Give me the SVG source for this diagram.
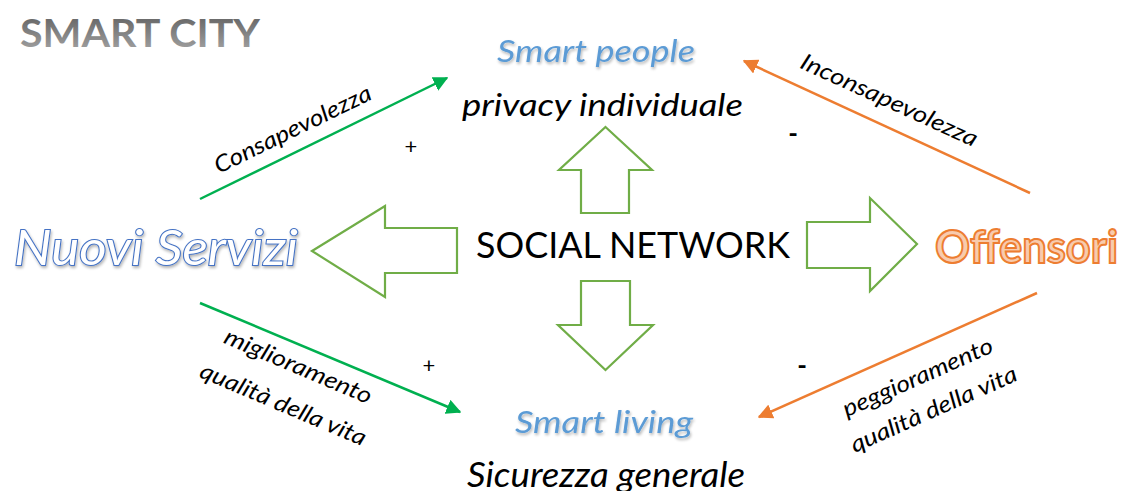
<svg xmlns="http://www.w3.org/2000/svg" width="1125" height="491" viewBox="0 0 1125 491">
<defs>
<linearGradient id="tg" x1="0" y1="0" x2="0" y2="1">
<stop offset="0" stop-color="#5a5a5a"/>
<stop offset="1" stop-color="#a8a8a8"/>
</linearGradient>
<filter id="soft" x="-10%" y="-10%" width="120%" height="120%">
<feGaussianBlur stdDeviation="0.6"/>
</filter>
<filter id="sh" x="-10%" y="-20%" width="120%" height="150%">
<feGaussianBlur in="SourceAlpha" stdDeviation="1.5" result="b"/>
<feOffset dx="1" dy="2" result="o"/>
<feComponentTransfer in="o" result="o2"><feFuncA type="linear" slope="0.3"/></feComponentTransfer>
<feMerge><feMergeNode in="o2"/><feMergeNode in="SourceGraphic"/></feMerge>
</filter>
<marker id="mg" viewBox="0 0 10 10" refX="9" refY="5" markerWidth="6" markerHeight="6" orient="auto" markerUnits="strokeWidth">
<path d="M0,0 L10,5 L0,10 z" fill="#00b050"/>
</marker>
<marker id="mo" viewBox="0 0 10 10" refX="9" refY="5" markerWidth="6" markerHeight="6" orient="auto" markerUnits="strokeWidth">
<path d="M0,0 L10,5 L0,10 z" fill="#ed7d31"/>
</marker>
</defs>
<style>
.f{font-family:Lato,"Open Sans","Liberation Sans",sans-serif}
.it{font-style:italic}
.blk{stroke:#70ad47;stroke-width:2.2;fill:#fff}
.g{stroke:#00b050;stroke-width:2.5;fill:none}
.o{stroke:#ed7d31;stroke-width:2.5;fill:none}
.lab{font-size:23px;fill:#000}
.sm{font-size:30px;fill:#5b9bd5}
.sign{font-size:22px;fill:#000}
</style>
<rect width="1125" height="491" fill="#fff"/>

<g id="title">
<text class="f" x="20" y="47" font-size="38" font-weight="bold" fill="url(#tg)" textLength="240" lengthAdjust="spacingAndGlyphs">SMART CITY</text>
</g>

<g id="smart-people">
<text class="f it sm" x="497" y="62" textLength="198" lengthAdjust="spacingAndGlyphs" filter="url(#sh)">Smart people</text>
<text class="f it" x="462" y="116" font-size="30" fill="#000" textLength="281" lengthAdjust="spacingAndGlyphs">privacy individuale</text>
</g>

<g id="smart-living">
<text class="f it sm" x="515" y="433" textLength="178" lengthAdjust="spacingAndGlyphs" filter="url(#sh)">Smart living</text>
<text class="f it" x="467" y="487" font-size="35" fill="#000" textLength="278" lengthAdjust="spacingAndGlyphs">Sicurezza generale</text>
</g>

<g id="social-network">
<text class="f" x="476" y="258" font-size="36" fill="#000" textLength="314" lengthAdjust="spacingAndGlyphs">SOCIAL NETWORK</text>
<polygon class="blk" filter="url(#soft)" points="605.5,127 652,170 629,170 629,213 581,213 581,170 559,170"/>
<polygon class="blk" filter="url(#soft)" points="312,251 385,206 385,228 457,228 457,273 385,273 385,297"/>
<polygon class="blk" points="917,244 870,198 870,222 807,222 807,268 870,268 870,291"/>
<polygon class="blk" points="605.5,370 653,325 630,325 630,281 581,281 581,325 558,325"/>
</g>

<g id="nuovi-servizi">
<text class="f it" x="14" y="265" font-size="48" fill="#fff" stroke="#4472c4" stroke-width="2" paint-order="stroke" textLength="284" lengthAdjust="spacingAndGlyphs" filter="url(#sh)">Nuovi Servizi</text>
</g>

<g id="offensori">
<text class="f" x="935" y="263" font-size="46" font-weight="bold" fill="#f8cbad" stroke="#ed7d31" stroke-width="2" textLength="183" lengthAdjust="spacingAndGlyphs">Offensori</text>
</g>

<g id="connectors">
<line class="g" x1="200" y1="199" x2="447" y2="78" marker-end="url(#mg)"/>
<line class="o" x1="1030" y1="193" x2="744" y2="61" marker-end="url(#mo)"/>
<line class="g" x1="200" y1="303" x2="460" y2="412" marker-end="url(#mg)"/>
<line class="o" x1="1037" y1="293" x2="759" y2="417" marker-end="url(#mo)"/>
<text class="f it lab" transform="translate(293,130) rotate(-26)" x="0" y="7" text-anchor="middle" textLength="172" lengthAdjust="spacingAndGlyphs">Consapevolezza</text>
<text class="f it lab" transform="translate(889,101) rotate(24.5)" x="0" y="7" text-anchor="middle" textLength="192" lengthAdjust="spacingAndGlyphs">Inconsapevolezza</text>
<text class="f it lab" transform="translate(298,367) rotate(23)" x="0" y="7" text-anchor="middle" textLength="158" lengthAdjust="spacingAndGlyphs">miglioramento</text>
<text class="f it lab" transform="translate(283,405) rotate(23)" x="0" y="7" text-anchor="middle" textLength="178" lengthAdjust="spacingAndGlyphs">qualità della vita</text>
<text class="f it lab" transform="translate(918,378) rotate(-24)" x="0" y="7" text-anchor="middle" textLength="162" lengthAdjust="spacingAndGlyphs">peggioramento</text>
<text class="f it lab" transform="translate(934,410) rotate(-24)" x="0" y="7" text-anchor="middle" textLength="180" lengthAdjust="spacingAndGlyphs">qualità della vita</text>
<text class="f sign" x="411" y="154" text-anchor="middle">+</text>
<text class="f sign" x="429" y="373" text-anchor="middle">+</text>
<text class="f" x="793" y="143" font-size="26" font-weight="bold" text-anchor="middle">-</text>
<text class="f" x="802" y="375" font-size="26" font-weight="bold" text-anchor="middle">-</text>
</g>
</svg>
